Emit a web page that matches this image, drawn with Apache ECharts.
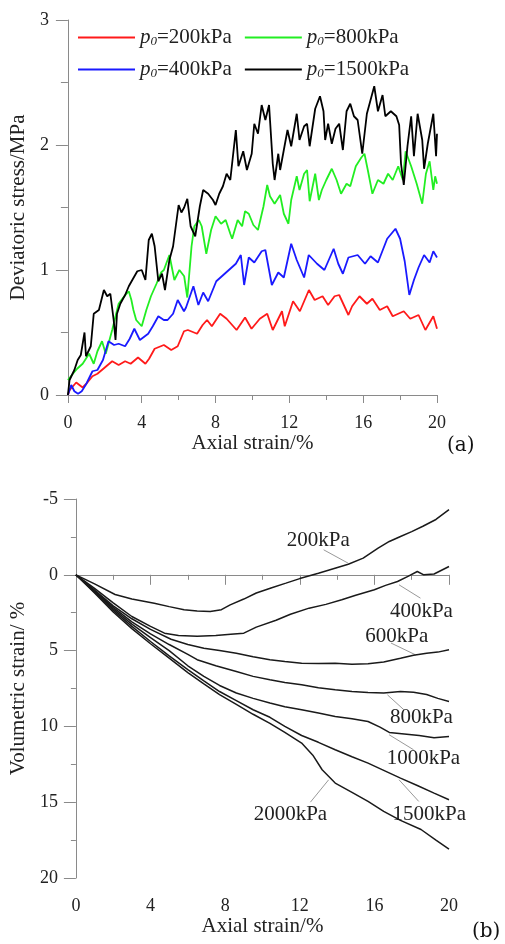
<!DOCTYPE html>
<html>
<head>
<meta charset="utf-8">
<script src="https://cdn.jsdelivr.net/npm/echarts@6/dist/echarts.min.js"></script>
<style>
  html, body { margin: 0; padding: 0; background: #fff; }
  #chart { width: 505px; height: 944px; }
</style>
</head>
<body>
<div id="chart"></div>
<script>
// (a) deviatoric stress vs axial strain, [strain %, stress MPa]
var stress200 = [[0,0],[0.1,0.04],[0.45,0.1],[0.8,0.06],[1.0,0.09],[1.33,0.15],[1.6,0.17],[2.0,0.22],[2.4,0.27],[2.75,0.24],[3.1,0.27],[3.4,0.25],[3.8,0.3],[4.2,0.25],[4.4,0.29],[4.7,0.37],[5.2,0.4],[5.6,0.36],[5.95,0.39],[6.29,0.51],[6.5,0.52],[7.0,0.49],[7.3,0.56],[7.54,0.6],[7.8,0.55],[8.25,0.65],[8.6,0.61],[9.14,0.52],[9.6,0.62],[9.95,0.53],[10.4,0.61],[10.8,0.65],[11.1,0.52],[11.6,0.67],[11.75,0.55],[12.2,0.75],[12.57,0.67],[13.06,0.84],[13.37,0.76],[13.8,0.79],[14.1,0.72],[14.45,0.79],[14.7,0.8],[15.2,0.64],[15.4,0.71],[15.8,0.79],[16.2,0.73],[16.5,0.77],[16.9,0.68],[17.3,0.71],[17.6,0.63],[18.2,0.67],[18.55,0.61],[19.0,0.64],[19.37,0.52],[19.8,0.63],[20,0.53]];
var stress400 = [[0,0],[0.18,0.08],[0.35,0.03],[0.55,0.01],[0.75,0.03],[1.0,0.09],[1.33,0.19],[1.6,0.2],[1.9,0.28],[2.2,0.43],[2.5,0.4],[2.75,0.41],[3.1,0.39],[3.35,0.45],[3.6,0.53],[3.9,0.44],[4.35,0.49],[4.6,0.55],[4.9,0.63],[5.2,0.6],[5.4,0.6],[5.7,0.65],[5.95,0.76],[6.29,0.67],[6.4,0.7],[6.8,0.87],[7.07,0.72],[7.33,0.82],[7.6,0.75],[8.04,0.91],[8.57,0.98],[9.1,1.05],[9.37,1.12],[9.55,0.88],[9.8,1.1],[10.1,1.06],[10.5,1.15],[10.7,1.16],[11.05,0.88],[11.4,0.98],[11.7,0.94],[12.1,1.21],[12.4,1.08],[12.8,0.94],[13.05,1.12],[13.5,1.05],[13.9,1.0],[14.4,1.17],[14.65,1.05],[14.9,0.97],[15.2,1.1],[15.7,1.12],[16.1,1.05],[16.4,1.11],[16.8,1.06],[17.3,1.25],[17.75,1.33],[18.0,1.25],[18.25,1.07],[18.5,0.8],[18.75,0.92],[19.0,1.02],[19.3,1.12],[19.6,1.06],[19.8,1.15],[20,1.1]];
var stress800 = [[0,0.12],[0.27,0.17],[0.5,0.21],[0.8,0.25],[1.15,0.33],[1.4,0.25],[1.6,0.35],[1.85,0.43],[2.05,0.33],[2.4,0.52],[2.75,0.73],[3.0,0.78],[3.3,0.83],[3.44,0.76],[3.55,0.68],[3.7,0.6],[4.0,0.55],[4.25,0.68],[4.5,0.79],[4.8,0.89],[5.05,0.98],[5.2,1.0],[5.5,1.12],[5.77,0.92],[6.04,1.0],[6.3,0.95],[6.47,0.78],[6.7,1.19],[6.85,1.35],[7.1,1.4],[7.25,1.35],[7.5,1.13],[7.76,1.32],[8.0,1.43],[8.3,1.37],[8.55,1.4],[8.8,1.29],[8.9,1.25],[9.2,1.4],[9.44,1.35],[9.6,1.47],[9.8,1.45],[10.05,1.36],[10.3,1.32],[10.6,1.51],[10.8,1.68],[10.95,1.59],[11.2,1.53],[11.5,1.6],[11.7,1.45],[11.95,1.37],[12.1,1.56],[12.4,1.75],[12.55,1.64],[12.8,1.77],[12.96,1.8],[13.1,1.55],[13.4,1.77],[13.6,1.56],[13.76,1.64],[14.0,1.72],[14.3,1.81],[14.56,1.72],[14.8,1.61],[15.1,1.69],[15.3,1.67],[15.6,1.83],[15.9,1.9],[16.07,1.93],[16.25,1.8],[16.5,1.61],[16.8,1.72],[17.1,1.69],[17.35,1.77],[17.6,1.72],[17.9,1.83],[18.15,1.72],[18.3,1.95],[18.6,1.83],[18.9,1.69],[19.2,1.53],[19.4,1.77],[19.6,1.87],[19.8,1.64],[19.9,1.75],[20,1.69]];
var stress1500 = [[0,0],[0.09,0.12],[0.35,0.2],[0.53,0.28],[0.7,0.32],[0.9,0.5],[0.98,0.31],[1.24,0.39],[1.4,0.65],[1.68,0.68],[1.95,0.84],[2.13,0.79],[2.3,0.81],[2.48,0.6],[2.58,0.44],[2.66,0.65],[2.84,0.73],[3.1,0.8],[3.3,0.87],[3.49,0.92],[3.76,0.99],[4.0,1.0],[4.2,0.92],[4.38,1.24],[4.55,1.29],[4.7,1.19],[4.9,0.91],[5.1,0.97],[5.26,0.84],[5.5,1.08],[5.7,1.19],[6.0,1.52],[6.15,1.46],[6.3,1.5],[6.47,1.57],[6.65,1.35],[6.9,1.27],[7.15,1.51],[7.33,1.64],[7.6,1.61],[7.86,1.56],[8.0,1.52],[8.2,1.61],[8.4,1.67],[8.6,1.77],[8.8,1.72],[9.1,2.12],[9.24,1.83],[9.5,1.95],[9.7,1.8],[9.96,1.93],[10.1,2.17],[10.3,2.09],[10.5,2.32],[10.7,2.2],[10.9,2.32],[11.1,1.85],[11.2,1.72],[11.4,1.93],[11.5,1.8],[11.7,1.96],[11.9,2.12],[12.1,1.99],[12.4,2.25],[12.55,2.04],[12.8,2.15],[12.96,2.17],[13.1,1.99],[13.4,2.29],[13.66,2.39],[13.85,2.27],[13.94,2.04],[14.1,2.17],[14.3,2.01],[14.5,2.13],[14.7,2.17],[14.9,1.96],[15.1,2.27],[15.3,2.33],[15.5,2.23],[15.7,2.2],[15.95,1.93],[16.2,2.25],[16.4,2.36],[16.6,2.47],[16.8,2.27],[17.05,2.4],[17.2,2.23],[17.5,2.27],[17.8,2.23],[17.95,2.16],[18.05,1.85],[18.2,1.68],[18.4,1.99],[18.6,2.23],[18.75,1.91],[18.95,2.25],[19.2,2.04],[19.3,1.81],[19.5,2.01],[19.8,2.25],[19.95,1.91],[20,2.09]];

// (b) volumetric strain vs axial strain, [strain %, vol strain %]
var vol200 = [[0,0],[1,0.6],[2.1,1.3],[3,1.6],[4.2,1.87],[5,2.1],[5.8,2.3],[6.5,2.38],[7.2,2.42],[7.8,2.3],[8.27,1.98],[9,1.6],[9.67,1.2],[10.5,0.85],[11.26,0.55],[12,0.25],[13,-0.1],[13.8,-0.4],[14.6,-0.7],[15.4,-1.1],[16.2,-1.76],[16.8,-2.2],[17.4,-2.53],[18,-2.85],[18.6,-3.2],[19.3,-3.65],[20,-4.3]];
var vol400 = [[0,0],[1,0.9],[2,1.85],[3,2.75],[4,3.4],[4.75,3.85],[5.5,4.0],[6.5,4.05],[7.5,4.0],[8.3,3.92],[9,3.85],[9.67,3.45],[10.73,3.0],[11.5,2.6],[12.5,2.2],[13.4,1.95],[14.25,1.65],[15,1.35],[16,0.99],[16.6,0.7],[17.24,0.44],[17.8,0.1],[18.3,-0.22],[18.65,0],[19.2,-0.05],[20,-0.55]];
var vol600 = [[0,0],[1,1.0],[2,2.05],[3,2.9],[4,3.6],[5.1,4.25],[6,4.6],[6.86,4.84],[7.7,5.0],[8.6,5.17],[9.5,5.4],[10.4,5.6],[11.2,5.72],[12.1,5.83],[13,5.85],[13.9,5.83],[14.8,5.9],[15.66,5.87],[16.5,5.75],[17.4,5.5],[18.1,5.3],[18.8,5.17],[19.4,5.1],[20,4.95]];
var vol800 = [[0,0],[1,1.05],[2,2.15],[3,3.1],[4,3.9],[5,4.6],[6,5.25],[6.5,5.6],[7.5,6.0],[8.6,6.38],[9.5,6.7],[10.4,6.93],[11.2,7.1],[12.1,7.26],[13,7.45],[13.9,7.59],[14.8,7.7],[15.66,7.76],[16.5,7.8],[17.4,7.7],[18.1,7.75],[18.8,7.9],[19.4,8.15],[20,8.36]];
var vol1000 = [[0,0],[1,1.1],[2,2.25],[3,3.25],[4,4.15],[5,5.0],[6,6.0],[6.86,6.7],[7.7,7.3],[8.6,7.8],[9.5,8.15],[10.4,8.46],[11.2,8.7],[12.1,8.9],[13,9.12],[13.9,9.35],[14.8,9.5],[15.66,9.68],[16.3,10.05],[16.8,10.4],[17.6,10.5],[18.4,10.6],[19.2,10.75],[20,10.66]];
var vol1500 = [[0,0],[1,1.15],[2,2.35],[3,3.4],[4,4.4],[5,5.35],[6,6.25],[6.86,7.0],[7.7,7.7],[8.6,8.3],[9.5,8.9],[10.4,9.4],[11.2,10.0],[12.1,10.6],[13,11.05],[13.9,11.54],[14.8,12.0],[15.66,12.42],[16.5,12.9],[17.4,13.41],[18.3,13.9],[19.2,14.4],[20,14.84]];
var vol2000 = [[0,0],[1,1.2],[2,2.45],[3,3.55],[4,4.55],[5,5.5],[6,6.45],[6.86,7.2],[7.7,7.9],[8.6,8.55],[9.5,9.2],[10.4,9.8],[11.2,10.4],[12.1,11.1],[12.7,11.9],[13.2,12.86],[13.9,13.74],[14.8,14.35],[15.66,14.95],[16.5,15.6],[17.4,16.2],[18.5,16.8],[19.3,17.5],[20,18.1]];

// curve labels for (b): text, text position; leader line from -> to
var volLabels = [["200kPa",[12.99,-2.24]],["400kPa",[18.52,2.44]],["600kPa",[17.2,4.09]],["800kPa",[18.52,9.43]],["1000kPa",[18.63,12.1]],["1500kPa",[18.94,15.83]],["2000kPa",[11.5,15.83]]];
var volLeaders = [[[13.28,-1.65],[14.59,-0.77]],[[17.32,0.66],[18.47,1.54]],[[16.89,4.5],[18.21,5.28]],[[16.7,7.92],[17.58,8.9]],[[16.79,10.55],[18.1,11.54]],[[17.32,13.52],[18.38,14.95]],[[12.57,15.0],[13.55,13.52]]];

var serif = "Liberation Serif";
var axisGrey = "#8a8a8a";

function xAxisCfg(grid, gap) {
  return {
    type: "value", gridIndex: grid, min: 0, max: 20, interval: 4,
    name: "Axial strain/%", nameLocation: "middle", nameGap: gap,
    nameTextStyle: { fontFamily: serif, fontSize: 21, color: "#222" },
    axisLine: { lineStyle: { color: axisGrey } },
    axisTick: { length: grid === 0 ? 8 : 10, lineStyle: { color: axisGrey } },
    minorTick: { show: true, splitNumber: 2, length: 5, lineStyle: { color: axisGrey } },
    splitLine: { show: false },
    axisLabel: { fontFamily: serif, fontSize: 18, color: "#222", margin: 19 },
  };
}

var chart = echarts.init(document.getElementById("chart"));
var legendText = {
  fontFamily: serif, fontSize: 21, color: "#222",
  rich: {
    i: { fontFamily: serif, fontSize: 21, fontStyle: "italic", color: "#222" },
    s: { fontFamily: serif, fontSize: 13, fontStyle: "italic", color: "#222", padding: [9, 0, 0, 0] },
    t: { fontFamily: serif, fontSize: 21, color: "#222" },
  },
};
function legendFmt(name) {
  return "{i|p}{s|0}{t|" + name.slice(2) + "}";
}
function legendCfg(names, top) {
  return {
    data: names.map(function (n) { return { name: n, icon: "rect" }; }),
    left: 73, top: top, itemWidth: 57, itemHeight: 2, itemGap: 13,
    formatter: legendFmt, textStyle: legendText,
  };
}

var option = {
  animation: false,
  backgroundColor: "#fff",
  grid: [
    { left: 62, top: 20, width: 375, height: 375 },
    { left: 70, top: 499, width: 379, height: 379 },
  ],
  legend: [
    legendCfg(["p0=200kPa", "p0=800kPa"], 22),
    legendCfg(["p0=400kPa", "p0=1500kPa"], 54),
  ],
  xAxis: [xAxisCfg(0, 38), xAxisCfg(1, 35)],
  yAxis: [
    {
      type: "value", gridIndex: 0, min: 0, max: 3, interval: 1,
      name: "Deviatoric stress/MPa", nameLocation: "middle", nameGap: 32,
      nameTextStyle: { fontFamily: serif, fontSize: 21, color: "#222" },
      axisLine: { show: true, lineStyle: { color: axisGrey } },
      axisTick: { show: true, length: 12, lineStyle: { color: axisGrey } },
      minorTick: { show: true, splitNumber: 2, length: 7, lineStyle: { color: axisGrey } },
      splitLine: { show: false },
      axisLabel: { fontFamily: serif, fontSize: 18, color: "#222", margin: 19 },
    },
    {
      type: "value", gridIndex: 1, min: -5, max: 20, interval: 5, inverse: true,
      name: "Volumetric strain/ %", nameLocation: "middle", nameGap: 38,
      nameTextStyle: { fontFamily: serif, fontSize: 21, color: "#222" },
      axisLine: { show: true, lineStyle: { color: axisGrey } },
      axisTick: { show: true, length: 12, lineStyle: { color: axisGrey } },
      minorTick: { show: true, splitNumber: 2, length: 5, lineStyle: { color: axisGrey } },
      splitLine: { show: false },
      axisLabel: { fontFamily: serif, fontSize: 18, color: "#222", margin: 18 },
    },
  ],
  graphic: [
    { type: "text", left: 447, top: 436, style: { text: "(a)", font: "20px 'DejaVu Serif'", fill: "#111" } },
    { type: "text", left: 472, top: 922, style: { text: "(b)", font: "20px 'DejaVu Serif'", fill: "#111" } },
  ],
  series: [],
};

// (a) curves
[["p0=200kPa", stress200, "#ff1a1a"], ["p0=800kPa", stress800, "#22ee22"], ["p0=400kPa", stress400, "#1a1aff"], ["p0=1500kPa", stress1500, "#000"]].forEach(function (s) {
  option.series.push({
    name: s[0], type: "line", xAxisIndex: 0, yAxisIndex: 0, data: s[1],
    symbol: "none", lineStyle: { color: s[2], width: 1.8 }, itemStyle: { color: s[2] },
  });
});

// (b) curves
[vol200, vol400, vol600, vol800, vol1000, vol1500, vol2000].forEach(function (d) {
  option.series.push({
    type: "line", xAxisIndex: 1, yAxisIndex: 1, data: d,
    symbol: "none", lineStyle: { color: "#1a1a1a", width: 1.5 },
  });
});

// leader lines and labels
option.series.push({
  type: "lines", coordinateSystem: "cartesian2d", xAxisIndex: 1, yAxisIndex: 1,
  data: volLeaders.map(function (c) { return { coords: c }; }),
  lineStyle: { color: "#999", width: 1, opacity: 1 }, silent: true,
});
option.series.push({
  type: "scatter", xAxisIndex: 1, yAxisIndex: 1, symbolSize: 0,
  itemStyle: { opacity: 1 },
  data: volLabels.map(function (l) { return { value: l[1], name: l[0] }; }),
  label: {
    show: true, position: "inside", formatter: "{b}",
    fontFamily: serif, fontSize: 21, color: "#222", opacity: 1,
  },
  silent: true,
});

chart.setOption(option);
</script>
</body>
</html>
